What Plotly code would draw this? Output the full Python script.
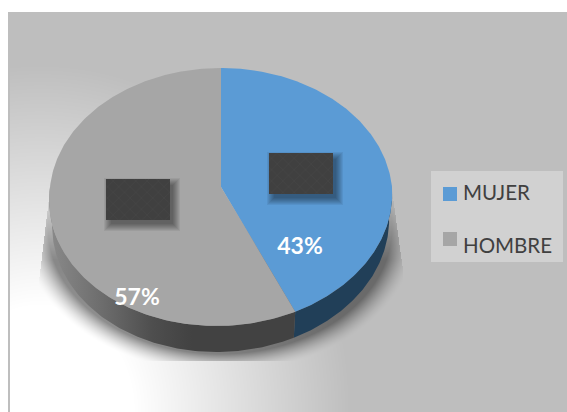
import numpy as np
import plotly.graph_objects as go

# Survey split shown by the pie
categories = ["MUJER", "HOMBRE"]
shares = [43, 57]
face_colors = ["#5B9BD5", "#A6A6A6"]

WIDTH, HEIGHT = 567, 412
FONT = "Lato"


def rim(deg, drop=0.0, squeeze=1.0):
    """Point on the tilted disc's edge; deg runs clockwise from twelve o'clock."""
    t = np.radians(deg)
    u, v = np.sin(t), -np.cos(t)
    w = 1 - 0.0775 * v
    lean = 4.5 * np.clip(v, 0, None)
    return 221 + squeeze * 171 * u / w - lean, 187 + 128.2 * v / w + drop


def backdrop():
    """Light sheet fading into grey, with the disc's soft cast shadow."""
    xx, yy = np.meshgrid(np.arange(WIDTH) + 0.5, np.arange(HEIGHT) + 0.5)
    d = np.hypot((xx - 40) / 310, (yy - 410) / 345)
    t = np.clip((d - 0.3) / 0.7, 0, 1)
    sheet = 255 - t * (255 - 190)

    ds = np.hypot((xx - 220) / 172, (yy - 228) / 126)
    fall = np.clip(1 - (ds - 1) / 0.15, 0, 1) ** 1.6
    left = 50 - (np.clip(yy, 190, 290) - 190) * 0.12
    right = 392 + (np.clip(yy, 190, 270) - 190) * 0.1375
    inside = (yy > 190) & (yy <= 361) & (xx >= left) & (xx <= right)
    top_fade = np.clip((yy - 190) / 70, 0, 1)
    sheet = np.where(inside, sheet * (1 - 0.44 * fall * top_fade), sheet)

    sheet[:, :8] = 255
    sheet[:12, :] = 255
    sheet[12:, 8:10] = np.minimum(sheet[12:, 8:10], 190)
    return sheet


def box(x0, y0, x1, y1):
    return [x0, x1, x1, x0, x0], [y0, y0, y1, y1, y0]


fig = go.Figure()

fig.add_trace(go.Heatmap(
    z=backdrop(), x=np.arange(WIDTH) + 0.5, y=np.arange(HEIGHT) + 0.5,
    zmin=0, zmax=255, colorscale=[[0, "#000000"], [1, "#ffffff"]],
    showscale=False, hoverinfo="skip", zsmooth=False,
))

# Slice angles follow the shares
split = shares[0] / sum(shares) * 360
DEPTH, SQUEEZE = 26, 0.982

# Side wall of the disc
for start, stop, paint in [(90, split, dict(fillcolor="#213F58")),
                           (split, 270, dict(fillgradient=dict(
                               type="horizontal",
                               colorscale=[[0, "#8A8A8A"], [0.22, "#6C6C6C"],
                                           [0.42, "#4E4E4E"], [0.58, "#424242"],
                                           [1, "#424242"]])))]:
    a = np.linspace(start, stop, 120)
    xt, yt = rim(a)
    xb, yb = rim(a, DEPTH, SQUEEZE)
    fig.add_trace(go.Scatter(
        x=np.r_[xt, xb[::-1]], y=np.r_[yt, yb[::-1]], mode="lines",
        line=dict(width=0), fill="toself", hoverinfo="skip", **paint,
    ))

# Top face wedges
for start, stop, colour in [(0, split, face_colors[0]), (split, 360, face_colors[1])]:
    a = np.linspace(start, stop, 240)
    xr, yr = rim(a)
    fig.add_trace(go.Scatter(
        x=np.r_[221, xr, 221], y=np.r_[187, yr, 187], mode="lines",
        line=dict(width=0), fill="toself", fillcolor=colour, hoverinfo="skip",
    ))

# Dark label plates with their drop shadows
for x0, y0, x1, y1 in [(269, 153, 333, 194), (106, 179, 170, 220)]:
    for grow in range(6, -2, -1):
        sx, sy = box(x0 + 4 - grow, y0 + 5 - grow, x1 + 4 + grow, y1 + 5 + grow)
        fig.add_trace(go.Scatter(
            x=sx, y=sy, mode="lines", line=dict(width=0), fill="toself",
            fillcolor="rgba(0,0,0,0.06)", hoverinfo="skip",
        ))
    px, py = box(x0, y0, x1, y1)
    fig.add_trace(go.Scatter(
        x=px, y=py, mode="lines", line=dict(width=0), fill="toself",
        fillcolor="#404040",
        fillpattern=dict(shape="x", size=8, solidity=0.08,
                         fgcolor="#585858", bgcolor="#404040"),
        hoverinfo="skip",
    ))

# Percentage labels
fig.add_trace(go.Scatter(
    x=[300, 137], y=[248, 299], mode="text",
    text=[f"{v}%" for v in shares], textposition="middle center",
    textfont=dict(family=FONT, size=23, color="#FFFFFF", weight="bold"),
    hoverinfo="skip",
))

# Legend panel, swatches and names
lx, ly = box(431, 171, 563, 262)
fig.add_trace(go.Scatter(
    x=lx, y=ly, mode="lines", line=dict(width=0), fill="toself",
    fillcolor="#D1D1D1", hoverinfo="skip",
))
fig.add_trace(go.Scatter(
    x=[450, 450], y=[194, 239], mode="markers",
    marker=dict(symbol="square", size=14, color=face_colors, line=dict(width=0)),
    hoverinfo="skip",
))
fig.add_trace(go.Scatter(
    x=[463, 463], y=[195, 248], mode="text", text=categories,
    textposition="middle right",
    textfont=dict(family=FONT, size=20.5, color="#404040"),
    hoverinfo="skip",
))

fig.update_layout(
    width=WIDTH, height=HEIGHT, margin=dict(l=0, r=0, t=0, b=0),
    paper_bgcolor="#FFFFFF", plot_bgcolor="#FFFFFF", showlegend=False,
    xaxis=dict(range=[0, WIDTH], visible=False, fixedrange=True),
    yaxis=dict(range=[HEIGHT, 0], visible=False, fixedrange=True),
)

fig.write_html("out.html", config=dict(displayModeBar=False))
